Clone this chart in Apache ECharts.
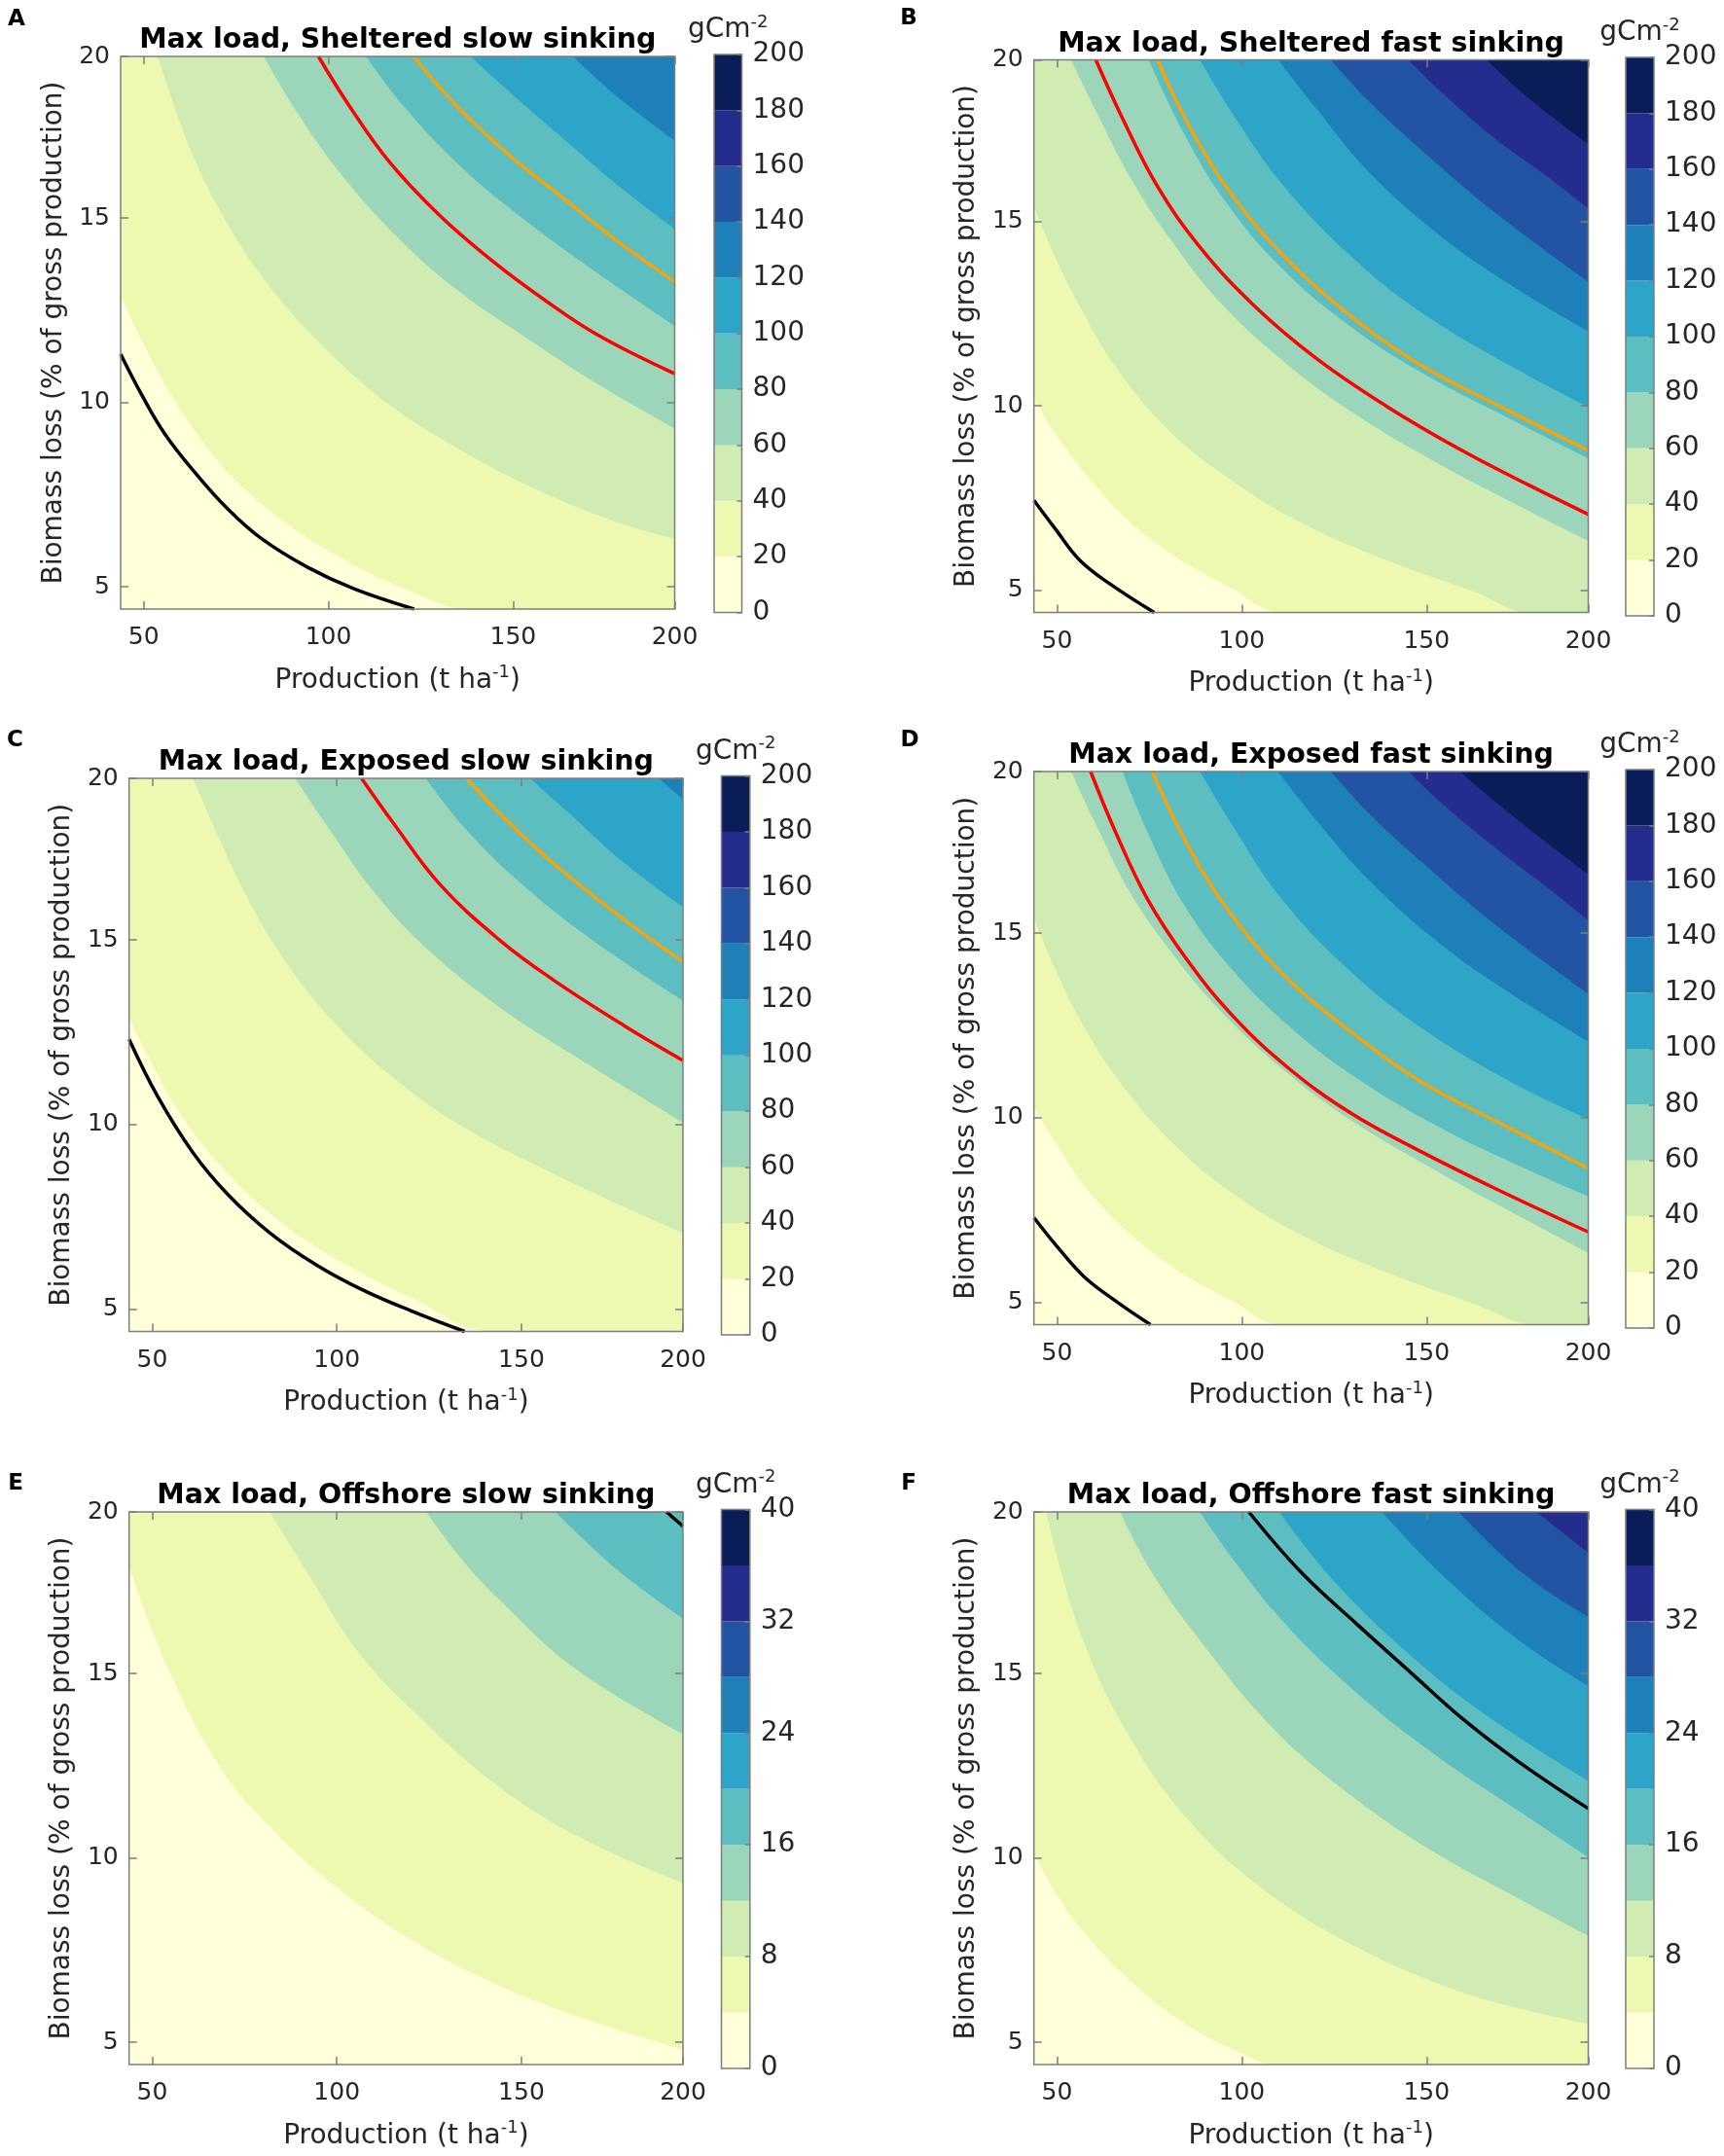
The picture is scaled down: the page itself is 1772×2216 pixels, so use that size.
<!DOCTYPE html>
<html>
<head>
<meta charset="utf-8">
<title>Max load contours</title>
<script src="https://cdn.jsdelivr.net/npm/echarts@6.0.0/dist/echarts.min.js"></script>
<style>
html,body{margin:0;padding:0;background:#ffffff;}
#chart{width:1772px;height:2216px;}
</style>
</head>
<body>
<div id="chart"></div>
<script>
// Axis extents (the edge ticks carry the labels 200 and 20)
const XMIN = 43.75, XMAX = 193.75, YMIN = 4.4, YMAX = 19.38;
const xTickValues = [50, 100, 150, XMAX];
const xTickLabels = ['50', '100', '150', '200'];
const yTickValues = [5, 10, 15, YMAX];
const yTickLabels = ['5', '10', '15', '20'];

// Colour-bar levels (gC m-2)
const levelsAD = [0, 20, 40, 60, 80, 100, 120, 140, 160, 180, 200];
const levelsEF = [0, 4, 8, 12, 16, 20, 24, 28, 32, 36, 40];
const bandColors = ['#ffffd9', '#edf8b1', '#d1ecb3', '#9bd5ba', '#5cbec1', '#2ca5c8', '#1e80b9', '#2354a3', '#242d8e', '#0a1d58'];

const titles = ['Max load, Sheltered slow sinking', 'Max load, Sheltered fast sinking',
  'Max load, Exposed slow sinking', 'Max load, Exposed fast sinking',
  'Max load, Offshore slow sinking', 'Max load, Offshore fast sinking'];

// ---- Panel A: contour boundaries [production, biomass loss] ----
const A_20 = [[XMIN, 12.88], [49.5, 11.68], [56.2, 10.42], [64.8, 9.1], [75.3, 7.85], [88.7, 6.72], [103.1, 5.8], [120.3, 4.97], [138.5, YMIN], [XMAX, YMIN]];
const A_40 = [[53.8, YMAX], [62.9, 16.8], [72.4, 14.89], [83.9, 13.17], [98.3, 11.55], [115.5, 10.02], [134.6, 8.78], [156.6, 7.63], [177.7, 6.77], [XMAX, 6.31]];
const A_60 = [[82.5, YMAX], [91.6, 17.85], [103.1, 16.23], [118.4, 14.51], [134.6, 13.07], [153.8, 11.74], [172.9, 10.5], [XMAX, 9.3]];
const A_80 = [[110.2, YMAX], [120.3, 18.04], [134.6, 16.51], [149, 15.27], [168.1, 13.84], [XMAX, 12.07]];
const A_100 = [[138.5, YMAX], [149, 18.42], [163.3, 17.18], [177.7, 15.94], [XMAX, 14.7]];
const A_120 = [[166.2, YMAX], [177.7, 18.33], [XMAX, 17.09]];
const A_black = [[XMIN, 11.31], [49.5, 10.2], [55.7, 9.15], [64.3, 8.05], [72.4, 7.15], [82, 6.3], [94.4, 5.53], [106.9, 4.95], [123.2, YMIN]];
const A_red = [[97.3, YMAX], [105.9, 18.0], [116.5, 16.52], [129.8, 15.1], [144.2, 13.85], [158.5, 12.78], [172.9, 11.83], [XMAX, 10.78]];
const A_orange = [[123, YMAX], [134.6, 18.05], [149, 16.7], [163.3, 15.56], [177.7, 14.41], [XMAX, 13.27]];

// ---- Panel B ----
const B_20 = [[XMIN, 10.21], [49.5, 9.25], [58.1, 8.11], [68.6, 6.96], [82, 5.91], [97.3, 5.05], [110.7, YMIN], [XMAX, YMIN]];
const B_40 = [[XMIN, 15.42], [49.5, 14.03], [56.2, 12.69], [65.75, 11.07], [80.1, 9.35], [95.4, 8.11], [115.5, 6.86], [139.4, 5.81], [163.3, 4.95], [178, YMIN], [XMAX, YMIN]];
const B_60 = [[53.8, YMAX], [61, 17.9], [69.6, 16.23], [80.1, 14.6], [93.5, 12.88], [110.7, 11.26], [129.8, 9.83], [153.8, 8.4], [177.7, 7.15], [XMAX, 6.34]];
const B_80 = [[74.8, YMAX], [84, 17.45], [95.4, 15.56], [110.7, 13.74], [129.8, 12.12], [149, 10.88], [172.9, 9.63], [XMAX, 8.58]];
const B_100 = [[88.7, YMAX], [97.3, 17.95], [110.7, 16.04], [129.8, 14.03], [149, 12.5], [172.9, 11.07], [XMAX, 9.97]];
const B_120 = [[109.8, YMAX], [120.3, 18.04], [134.6, 16.32], [153.8, 14.6], [172.9, 13.27], [XMAX, 12.02]];
const B_140 = [[124.1, YMAX], [134.6, 18.23], [149, 16.9], [168.1, 15.27], [XMAX, 13.36]];
const B_160 = [[145.1, YMAX], [153.8, 18.52], [168.1, 17.28], [182.5, 16.23], [XMAX, 15.35]];
const B_180 = [[166.2, YMAX], [177.7, 18.33], [XMAX, 17.09]];
const B_black = [[XMIN, 7.44], [49.5, 6.67], [56.2, 5.81], [64.8, 5.14], [76.3, YMIN]];
const B_red = [[60.5, YMAX], [67.7, 17.8], [77.2, 15.95], [88.7, 14.3], [103, 12.75], [120, 11.3], [139, 10.0], [158.5, 8.85], [177.7, 7.85], [XMAX, 7.06]];
const B_orange = [[77.2, YMAX], [84.9, 17.75], [96.4, 15.85], [110.7, 14.13], [129.8, 12.41], [149, 11.07], [172.9, 9.83], [XMAX, 8.79]];

// ---- Panel C ----
const C_20 = [[XMIN, 12.88], [49.5, 11.74], [58.1, 10.21], [69.6, 8.78], [83.9, 7.44], [101.1, 6.29], [120.3, 5.3], [142, YMIN], [XMAX, YMIN]];
const C_40 = [[61, YMAX], [67.7, 17.85], [75.3, 16.23], [84.9, 14.6], [98.3, 12.88], [115.5, 11.26], [134.6, 9.92], [158.5, 8.68], [177.7, 7.78], [XMAX, 7.06]];
const C_60 = [[88.7, YMAX], [98.3, 17.95], [110.7, 16.23], [125.1, 14.7], [144.2, 13.17], [163.3, 11.93], [XMAX, 10.06]];
const C_80 = [[124.1, YMAX], [134.6, 18.04], [149, 16.61], [168.1, 15.08], [XMAX, 13.36]];
const C_100 = [[152.3, YMAX], [163.3, 18.4], [177.7, 17.1], [XMAX, 15.89]];
const C_120 = [[187.2, YMAX], [XMAX, 18.81]];
const C_black = [[XMIN, 12.31], [51.4, 10.78], [61, 9.25], [70.5, 8.11], [82, 7.06], [94.5, 6.2], [106.9, 5.53], [120.3, 4.95], [134.6, YMIN]];
const C_red = [[106.7, YMAX], [115.5, 18.14], [127.9, 16.51], [144.2, 14.99], [158.5, 13.93], [177.7, 12.69], [XMAX, 11.74]];
const C_orange = [[135.1, YMAX], [144.2, 18.42], [158.5, 17.09], [177.7, 15.56], [XMAX, 14.41]];

// ---- Panel D ----
const D_20 = [[XMIN, 10.26], [49.5, 9.35], [57.1, 8.2], [68.6, 6.96], [82, 5.91], [97.3, 5.05], [110.7, YMIN], [XMAX, YMIN]];
const D_40 = [[XMIN, 15.42], [49.5, 14.03], [57.1, 12.5], [67.7, 10.88], [80.1, 9.44], [95.4, 8.11], [115.5, 6.86], [139.4, 5.81], [163.3, 4.95], [179.6, YMIN], [XMAX, YMIN]];
const D_60 = [[53.8, YMAX], [61, 17.85], [69.6, 16.13], [80.1, 14.6], [93.5, 12.98], [110.7, 11.35], [129.8, 9.92], [153.8, 8.5], [177.7, 7.2], [XMAX, 6.34]];
const D_80 = [[67.7, YMAX], [74.4, 17.76], [83.9, 15.85], [96.4, 14.13], [112.6, 12.5], [129.8, 11.16], [153.8, 9.73], [177.7, 8.58], [XMAX, 7.87]];
const D_100 = [[88.7, YMAX], [97.3, 17.95], [110.7, 15.94], [129.8, 13.93], [149, 12.41], [172.9, 10.97], [XMAX, 9.97]];
const D_120 = [[109.8, YMAX], [120.3, 18.04], [134.6, 16.42], [153.8, 14.7], [172.9, 13.36], [XMAX, 12.07]];
const D_140 = [[124.1, YMAX], [134.6, 18.23], [149, 16.9], [168.1, 15.27], [XMAX, 13.36]];
const D_160 = [[145.1, YMAX], [153.8, 18.55], [168.1, 17.35], [182.5, 16.25], [XMAX, 15.35]];
const D_180 = [[159, YMAX], [168.1, 18.6], [182.5, 17.45], [XMAX, 16.6]];
const D_black = [[XMIN, 7.3], [49.5, 6.58], [57.1, 5.72], [65.75, 5.05], [75.3, YMIN]];
const D_red = [[59.1, YMAX], [65.75, 17.76], [74.4, 15.94], [84.9, 14.32], [97.3, 12.79], [112.6, 11.35], [129.8, 10.11], [149, 9.06], [168.1, 8.11], [XMAX, 6.91]];
const D_orange = [[75.8, YMAX], [83.9, 17.66], [95.4, 15.75], [110.7, 13.93], [129.8, 12.31], [149, 10.95], [172.9, 9.7], [XMAX, 8.63]];

// ---- Panel E ----
const E_4 = [[XMIN, 17.9], [53.6, 15.3], [68.5, 12.45], [83.3, 10.7], [100, 9.2], [120.5, 7.76], [143, 6.58], [165, 5.71], [XMAX, 4.8]];
const E_8 = [[81.8, YMAX], [92.3, 17.7], [105.7, 15.6], [120.5, 14.0], [143, 12.0], [165, 10.6], [XMAX, 9.32]];
const E_12 = [[124.3, YMAX], [133, 18.2], [143, 17.1], [165, 15.1], [XMAX, 13.36]];
const E_16 = [[159.2, YMAX], [175.6, 17.84], [XMAX, 16.49]];
const E_black = [[189.3, YMAX], [XMAX, 18.99]];

// ---- Panel F ----
const F_4 = [[XMIN, 10.12], [50, 9.0], [56.7, 8.05], [71.5, 6.52], [86.4, 5.4], [101.2, 4.65], [108.6, YMIN], [XMAX, YMIN]];
const F_8 = [[47.1, YMAX], [56.7, 16.0], [71.6, 12.95], [88.1, 10.75], [108.6, 8.95], [130.8, 7.6], [153, 6.6], [168, 6.1], [XMAX, 5.5]];
const F_12 = [[67.1, YMAX], [75, 17.85], [86.4, 16.2], [108.6, 13.5], [130.8, 11.6], [153, 10.1], [175.3, 8.88], [XMAX, 7.89]];
const F_16 = [[88.6, YMAX], [108.6, 16.7], [130.8, 14.5], [153, 12.75], [175.3, 11.25], [XMAX, 10.02]];
const F_20 = [[110.1, YMAX], [125, 17.5], [145, 15.55], [165, 13.95], [XMAX, 12.09]];
const F_24 = [[137.9, YMAX], [155, 17.6], [175, 15.9], [XMAX, 14.66]];
const F_28 = [[158.7, YMAX], [175, 17.8], [XMAX, 16.53]];
const F_32 = [[179.7, YMAX], [XMAX, 18.27]];
const F_black = [[101.9, YMAX], [116, 17.75], [131, 16.35], [146, 15.0], [160, 13.75], [175, 12.6], [XMAX, 11.34]];

// ---- Layout (pixels) ----
const layout = {
  A: { plot: [124, 58, 693.5, 626], cb: [734, 56, 762.5, 629.5], letter: [17, 20] },
  B: { plot: [1062.7, 61.5, 1632.5, 629.5], cb: [1671, 59, 1700, 633], letter: [934, 19] },
  C: { plot: [132.7, 800, 702, 1368.5], cb: [741.5, 797.5, 770.8, 1372], letter: [15.5, 761] },
  D: { plot: [1062.7, 793, 1632.5, 1361.5], cb: [1671, 791, 1700, 1365], letter: [935, 761] },
  E: { plot: [132.7, 1554, 702, 2122], cb: [741.5, 1551.5, 770.8, 2126], letter: [16, 1525] },
  F: { plot: [1062.7, 1554, 1632.5, 2122], cb: [1671, 1551.5, 1700, 2126], letter: [934, 1525] }
};

const RED = '#ff0000', ORANGE = '#f5a40c', BLACK = '#000000';
const panelDefs = [
  { id: 'A', title: titles[0], levels: levelsAD, step: 20, fills: [A_20, A_40, A_60, A_80, A_100, A_120], lines: [A_black, A_red, A_orange], lineColors: [BLACK, RED, ORANGE] },
  { id: 'B', title: titles[1], levels: levelsAD, step: 20, fills: [B_20, B_40, B_60, B_80, B_100, B_120, B_140, B_160, B_180], lines: [B_black, B_red, B_orange], lineColors: [BLACK, RED, ORANGE] },
  { id: 'C', title: titles[2], levels: levelsAD, step: 20, fills: [C_20, C_40, C_60, C_80, C_100, C_120], lines: [C_black, C_red, C_orange], lineColors: [BLACK, RED, ORANGE] },
  { id: 'D', title: titles[3], levels: levelsAD, step: 20, fills: [D_20, D_40, D_60, D_80, D_100, D_120, D_140, D_160, D_180], lines: [D_black, D_red, D_orange], lineColors: [BLACK, RED, ORANGE] },
  { id: 'E', title: titles[4], levels: levelsEF, step: 8, fills: [E_4, E_8, E_12, E_16], lines: [E_black], lineColors: [BLACK] },
  { id: 'F', title: titles[5], levels: levelsEF, step: 8, fills: [F_4, F_8, F_12, F_16, F_20, F_24, F_28, F_32], lines: [F_black], lineColors: [BLACK] }
];

const FONTFAM = '"DejaVu Sans", sans-serif';
const TXT = '#262626', FRAME = '#7d7d7d';
const SMOOTH = 0.4;

function labelFor(values, labels) {
  return function (v) {
    for (let i = 0; i < values.length; i++) {
      if (Math.abs(values[i] - v) < 1e-6) return labels[i];
    }
    return '';
  };
}
function ticks(vals) {
  return { show: true, inside: true, length: 8, customValues: vals, lineStyle: { color: FRAME, width: 1.5 } };
}

const grid = [], xAxis = [], yAxis = [], series = [], elements = [];

panelDefs.forEach(function (p) {
  const lay = layout[p.id];
  const l = lay.plot[0], t = lay.plot[1], r = lay.plot[2], b = lay.plot[3];
  const gi = grid.length;
  grid.push({ left: l, top: t, width: r - l, height: b - t, show: true, backgroundColor: 'rgba(0,0,0,0)', borderColor: FRAME, borderWidth: 1.5, z: 10 });
  const xi = xAxis.length, yi = yAxis.length;
  xAxis.push({ gridIndex: gi, type: 'value', min: XMIN, max: XMAX, position: 'bottom', z: 10,
    axisLine: { show: false }, splitLine: { show: false }, axisTick: ticks(xTickValues),
    axisLabel: { show: true, customValues: xTickValues, formatter: labelFor(xTickValues, xTickLabels), fontSize: 25, fontFamily: FONTFAM, color: TXT, margin: 17 } });
  xAxis.push({ gridIndex: gi, type: 'value', min: XMIN, max: XMAX, position: 'top', z: 10,
    axisLine: { show: false }, splitLine: { show: false }, axisTick: ticks(xTickValues), axisLabel: { show: false } });
  yAxis.push({ gridIndex: gi, type: 'value', min: YMIN, max: YMAX, position: 'left', z: 10,
    axisLine: { show: false }, splitLine: { show: false }, axisTick: ticks(yTickValues),
    axisLabel: { show: true, customValues: yTickValues, formatter: labelFor(yTickValues, yTickLabels), fontSize: 25, fontFamily: FONTFAM, color: TXT, margin: 11 } });
  yAxis.push({ gridIndex: gi, type: 'value', min: YMIN, max: YMAX, position: 'right', z: 10,
    axisLine: { show: false }, splitLine: { show: false }, axisTick: ticks(yTickValues), axisLabel: { show: false } });

  const base = [[XMIN, YMIN], [XMAX, YMIN]];
  const fillSets = [base].concat(p.fills);
  fillSets.forEach(function (d, k) {
    series.push({ type: 'line', xAxisIndex: xi, yAxisIndex: yi, data: d, symbol: 'none', showSymbol: false,
      smooth: k === 0 ? false : SMOOTH, lineStyle: { width: 0, opacity: 0 },
      areaStyle: { color: bandColors[k], opacity: 1, origin: 'end' }, silent: true, z: 2, animation: false });
  });
  p.lines.forEach(function (d, k) {
    series.push({ type: 'line', xAxisIndex: xi, yAxisIndex: yi, data: d, symbol: 'none', showSymbol: false,
      smooth: SMOOTH, lineStyle: { color: p.lineColors[k], width: 3.5 }, silent: true, z: 3, animation: false });
  });

  // colour bar
  const cl = lay.cb[0], ct = lay.cb[1], cr = lay.cb[2], cbt = lay.cb[3];
  const cg = grid.length;
  grid.push({ left: cl, top: ct, width: cr - cl, height: cbt - ct, show: true, backgroundColor: 'rgba(0,0,0,0)', borderColor: FRAME, borderWidth: 1.5, z: 10 });
  const cx = xAxis.length, cy = yAxis.length;
  xAxis.push({ gridIndex: cg, type: 'category', data: ['scale'], show: false });
  yAxis.push({ gridIndex: cg, type: 'value', min: 0, max: p.levels[p.levels.length - 1], interval: p.step, position: 'right', z: 10,
    axisLine: { show: false }, splitLine: { show: false },
    axisTick: { show: true, inside: true, length: 5, lineStyle: { color: FRAME, width: 1.5 } },
    axisLabel: { fontSize: 28, fontFamily: FONTFAM, color: TXT, margin: 11 } });
  for (let k = 0; k < p.levels.length - 1; k++) {
    series.push({ type: 'bar', xAxisIndex: cx, yAxisIndex: cy, stack: 'cb' + p.id, data: [p.levels[k + 1] - p.levels[k]],
      barWidth: '100%', itemStyle: { color: bandColors[k] }, silent: true, z: 2, animation: false });
  }

  // texts
  const mx = (l + r) / 2, my = (t + b) / 2;
  elements.push({ type: 'text', x: mx, y: t - 16, z: 100, silent: true,
    style: { text: p.title, font: 'bold 28.5px "DejaVu Sans"', fill: '#000000', textAlign: 'center', textVerticalAlign: 'middle' } });
  elements.push({ type: 'text', x: lay.letter[0], y: lay.letter[1], z: 100, silent: true,
    style: { text: p.id, font: 'bold 23px "DejaVu Sans"', fill: '#000000', textAlign: 'center', textVerticalAlign: 'middle' } });
  elements.push({ type: 'text', x: mx, y: b + 73.5, z: 100, silent: true,
    style: { text: '{m|Production (t ha}{s|-1}{m|)}', fill: TXT, textAlign: 'center', textVerticalAlign: 'middle',
      rich: { m: { fontSize: 28, fontFamily: 'DejaVu Sans', fill: TXT, lineHeight: 34 },
              s: { fontSize: 18, fontFamily: 'DejaVu Sans', fill: TXT, lineHeight: 14, verticalAlign: 'top' } } } });
  elements.push({ type: 'text', x: l - 68.5, y: my, rotation: Math.PI / 2, z: 100, silent: true,
    style: { text: 'Biomass loss (% of gross production)', font: '28px "DejaVu Sans"', fill: TXT, textAlign: 'center', textVerticalAlign: 'middle' } });
  elements.push({ type: 'text', x: (cl + cr) / 2, y: ct - 25, z: 100, silent: true,
    style: { text: '{m|gCm}{s|-2}', fill: TXT, textAlign: 'center', textVerticalAlign: 'middle',
      rich: { m: { fontSize: 28, fontFamily: 'DejaVu Sans', fill: TXT, lineHeight: 34 },
              s: { fontSize: 18, fontFamily: 'DejaVu Sans', fill: TXT, lineHeight: 14, verticalAlign: 'top' } } } });
});

const chart = echarts.init(document.getElementById('chart'), null, { renderer: 'canvas', width: 1772, height: 2216 });
chart.setOption({
  backgroundColor: '#ffffff',
  animation: false,
  textStyle: { fontFamily: FONTFAM },
  grid: grid,
  xAxis: xAxis,
  yAxis: yAxis,
  series: series,
  graphic: { elements: elements }
});
</script>
</body>
</html>
